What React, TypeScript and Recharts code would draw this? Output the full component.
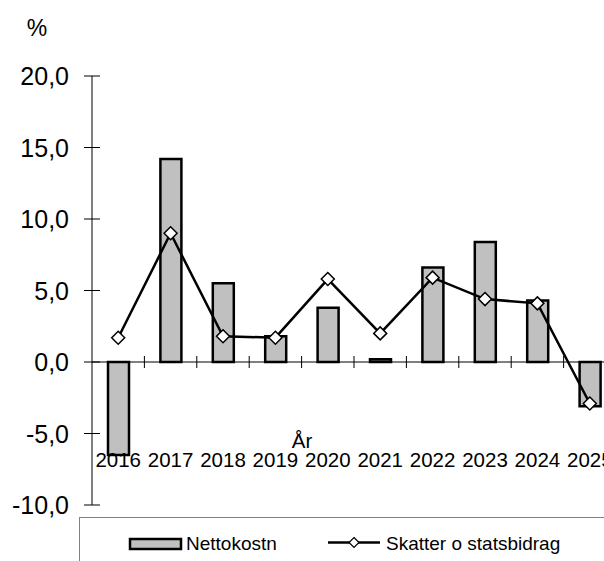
import React from 'react';
import { ComposedChart, Bar, Line, XAxis, YAxis, ReferenceLine } from 'recharts';

const years = ['2016', '2017', '2018', '2019', '2020', '2021', '2022', '2023', '2024', '2025'];
const nettokostn = [-6.5, 14.2, 5.5, 1.8, 3.8, 0.2, 6.6, 8.4, 4.3, -3.1];
const skatter = [1.7, 9.0, 1.8, 1.7, 5.8, 2.0, 5.9, 4.4, 4.1, -2.9];
const yTicks = [-10, -5, 0, 5, 10, 15, 20];
const Y_MIN = -10;
const Y_MAX = 20;

const data = years.map((y, i) => ({ year: y, netto: nettokostn[i], skatter: skatter[i] }));

const FONT = '"Liberation Sans", Arial, sans-serif';
const W = 630;
const H = 561;
const TOP = 76;
const BOTTOM_GAP = 56;
const LEFT = 92;
const RIGHT = 14;
const PLOT_W = W - LEFT - RIGHT;
const PLOT_H = H - TOP - BOTTOM_GAP;
const BAND = PLOT_W / years.length;
const ZERO_FROM_BOTTOM = (PLOT_H * (0 - Y_MIN)) / (Y_MAX - Y_MIN);

const fmt = (v: number) => v.toFixed(1).replace('.', ',');

const YTick = (props: any) => {
  const { x, y, payload } = props;
  return (
    <g>
      <line x1={x - 8} x2={x + 8} y1={y} y2={y} stroke="#000" strokeWidth={1} />
      <text x={x - 23} y={y} dy="0.36em" textAnchor="end" fontSize={25} fontFamily={FONT} fill="#000">
        {fmt(payload.value)}
      </text>
    </g>
  );
};

const XTick = (props: any) => {
  const { x, y, payload } = props;
  const zy = y - ZERO_FROM_BOTTOM;
  return (
    <g>
      <line x1={x + BAND / 2} x2={x + BAND / 2} y1={zy - 6} y2={zy + 6} stroke="#000" strokeWidth={1} />
      <text x={x} y={y - 38} textAnchor="middle" fontSize={20.5} fontFamily={FONT} fill="#000">
        {payload.value}
      </text>
    </g>
  );
};

const Diamond = (props: any) => {
  const { cx, cy, index } = props;
  if (cx == null || cy == null) return <g key={index} />;
  const r = 6.5;
  return (
    <path
      key={index}
      d={`M${cx},${cy - r} L${cx + r},${cy} L${cx},${cy + r} L${cx - r},${cy} Z`}
      fill="#fff"
      stroke="#000"
      strokeWidth={1.5}
    />
  );
};

export default function App() {
  return (
    <div style={{ position: 'absolute', left: 0, top: 0, width: 604, height: 561, overflow: 'hidden', background: '#fff' }}>
      <ComposedChart
        width={W}
        height={H}
        data={data}
        margin={{ top: TOP, right: RIGHT, bottom: 0, left: 0 }}
        barCategoryGap={0}
      >
        <YAxis
          type="number"
          domain={[Y_MIN, Y_MAX]}
          ticks={yTicks}
          width={LEFT}
          tickSize={0}
          tickMargin={0}
          tick={<YTick />}
          axisLine={{ stroke: '#000', strokeWidth: 1 }}
          tickLine={false}
          interval={0}
        />
        <XAxis
          dataKey="year"
          height={BOTTOM_GAP}
          tickSize={0}
          tickMargin={0}
          tick={<XTick />}
          axisLine={false}
          tickLine={false}
          interval={0}
        />
        <ReferenceLine y={0} stroke="#000" strokeWidth={1} />
        <Bar dataKey="netto" fill="#c0c0c0" stroke="#000" strokeWidth={2.5} barSize={21} isAnimationActive={false} />
        <Line
          dataKey="skatter"
          stroke="#000"
          strokeWidth={2.5}
          dot={<Diamond />}
          activeDot={false}
          isAnimationActive={false}
        />
      </ComposedChart>
      <svg width={604} height={561} style={{ position: 'absolute', left: 0, top: 0, pointerEvents: 'none' }}>
        <text x={37} y={36} textAnchor="middle" fontSize={23} fontFamily={FONT} fill="#000">%</text>
        <text x={302} y={448} textAnchor="middle" fontSize={20.5} fontFamily={FONT} fill="#000">År</text>
        <rect x={79.5} y={517.5} width={600} height={100} fill="none" stroke="#808080" strokeWidth={1} />
        <rect x={130} y={539} width={51} height={10} fill="#c0c0c0" stroke="#000" strokeWidth={2.5} />
        <text x={186} y={550} fontSize={19} fontFamily={FONT} fill="#000">Nettokostn</text>
        <line x1={328} x2={380} y1={542.5} y2={542.5} stroke="#000" strokeWidth={2.5} />
        <path d="M354,537.5 L359,542.5 L354,547.5 L349,542.5 Z" fill="#fff" stroke="#000" strokeWidth={1.2} />
        <text x={386} y={550} fontSize={19} fontFamily={FONT} fill="#000">Skatter o statsbidrag</text>
      </svg>
    </div>
  );
}
